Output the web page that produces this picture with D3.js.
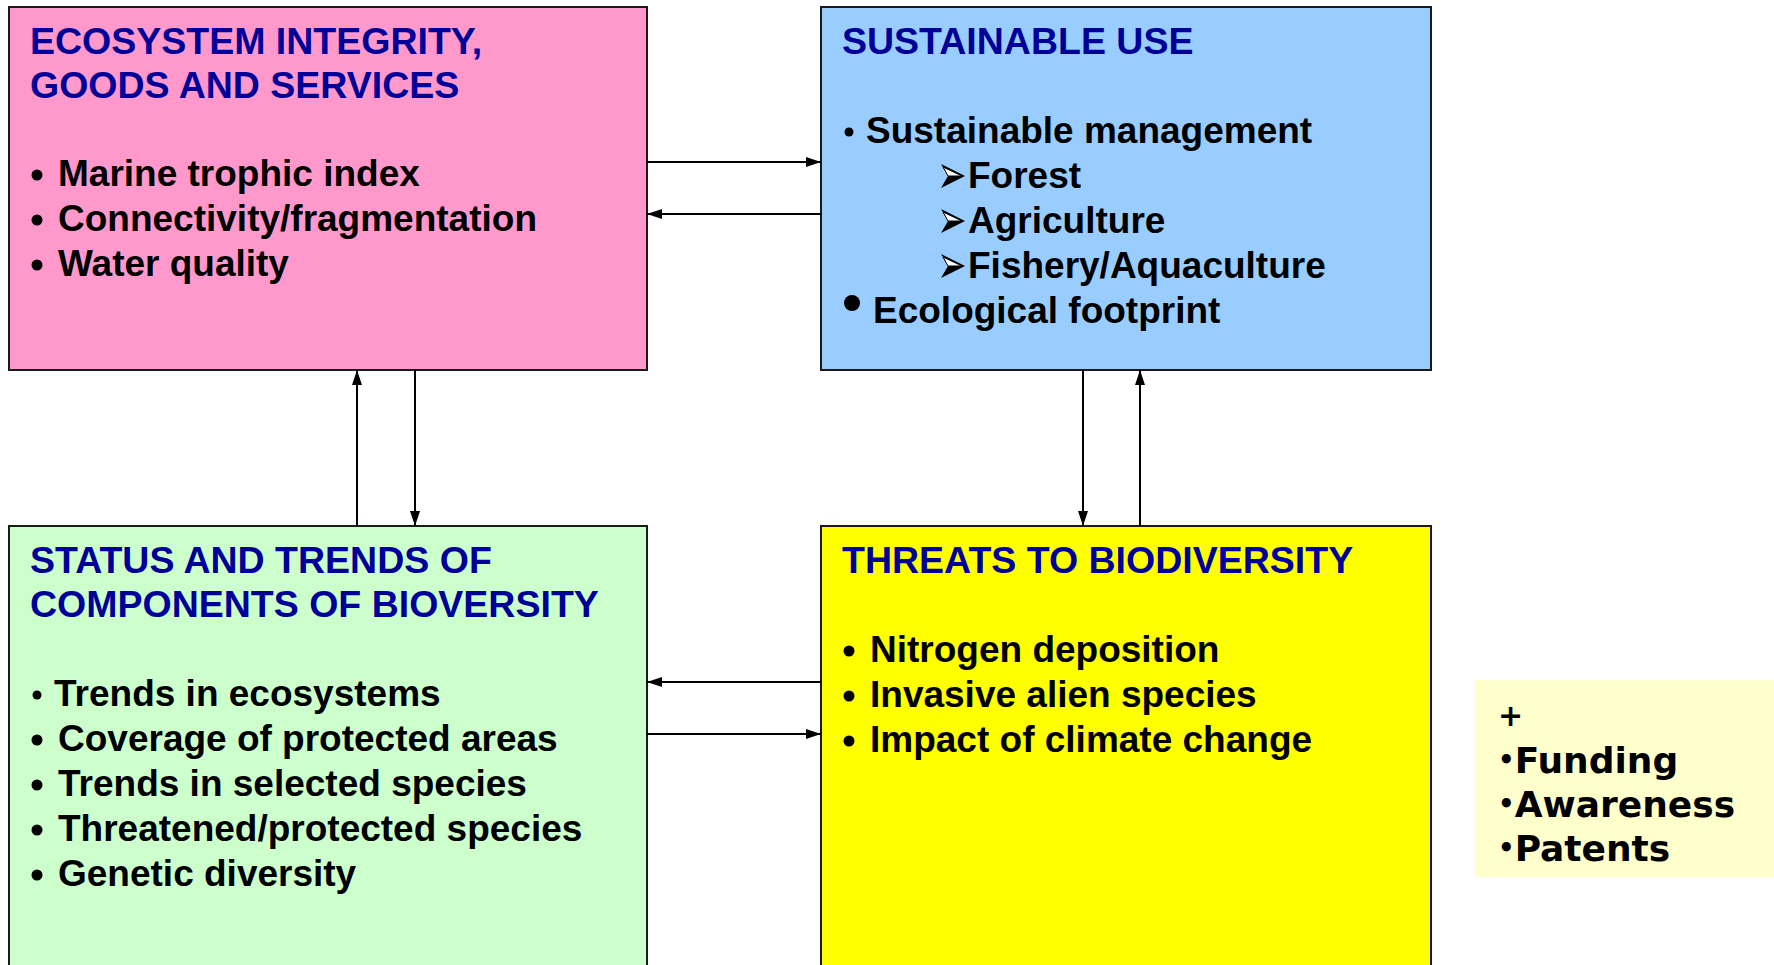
<!DOCTYPE html>
<html><head><meta charset="utf-8">
<script src="https://cdn.jsdelivr.net/npm/d3@7"></script>
<style>
html,body{margin:0;padding:0;background:#fff;overflow:hidden}
svg{display:block}
</style></head>
<body>
<svg id="c" width="1774" height="965"></svg>
<script>
// ---- content ----
const boxIds = ["integrity", "use", "status", "threats"];
const boxTitles = [
  ["ECOSYSTEM INTEGRITY,", "GOODS AND SERVICES"],
  ["SUSTAINABLE USE"],
  ["STATUS AND TRENDS OF", "COMPONENTS OF BIOVERSITY"],
  ["THREATS TO BIODIVERSITY"]
];
const boxColors = ["#FF99CC", "#99CCFF", "#CCFFCC", "#FFFF00"];
const integrityItems = ["Marine trophic index", "Connectivity/fragmentation", "Water quality"];
const useItems = ["Sustainable management", "Forest", "Agriculture", "Fishery/Aquaculture", "Ecological footprint"];
const useLevels = [0, 1, 1, 1, 0];
const statusItems = ["Trends in ecosystems", "Coverage of protected areas", "Trends in selected species", "Threatened/protected species", "Genetic diversity"];
const threatItems = ["Nitrogen deposition", "Invasive alien species", "Impact of climate change"];
const noteItems = ["+", "Funding", "Awareness", "Patents"];
const links = [
  ["integrity", "use"], ["use", "integrity"],
  ["status", "integrity"], ["integrity", "status"],
  ["use", "threats"], ["threats", "use"],
  ["threats", "status"], ["status", "threats"]
];

// ---- layout ----
const svg = d3.select("#c");
const col = d3.scaleOrdinal().domain([0, 1]).range([9, 821]);
const row = d3.scaleOrdinal().domain([0, 1]).range([7, 526]);
const boxW = [638, 610], boxH = [363, 460];
const boxes = boxIds.map((id, i) => {
  const c = i % 2, r = Math.floor(i / 2);
  return {id, i, x: col(c), y: row(r), w: boxW[c], h: boxH[r], fill: boxColors[i], title: boxTitles[i]};
});
const byId = Object.fromEntries(boxes.map(b => [b.id, b]));

const FONT = "'Liberation Sans', Arial, sans-serif";
const FS = 37, LH = 45;

svg.append("defs").append("marker")
  .attr("id", "ah").attr("viewBox", "0 0 15 10")
  .attr("refX", 15).attr("refY", 5)
  .attr("markerWidth", 15).attr("markerHeight", 10)
  .attr("markerUnits", "userSpaceOnUse")
  .attr("orient", "auto")
  .append("path").attr("d", "M0,0 L15,5 L0,10 Z").attr("fill", "#000");

// boxes
svg.append("g").selectAll("rect.box").data(boxes).join("rect")
  .attr("class", "box")
  .attr("x", d => d.x).attr("y", d => d.y)
  .attr("width", d => d.w).attr("height", d => d.h)
  .attr("fill", d => d.fill).attr("stroke", "#1a1a1a").attr("stroke-width", 2);

// note box
svg.append("rect").attr("x", 1475).attr("y", 680).attr("width", 310).attr("height", 197)
  .attr("fill", "#FFFFCC");

// titles
boxes.forEach(b => {
  const t = svg.append("text")
    .attr("font-family", FONT).attr("font-weight", "bold").attr("font-size", 37.5)
    .attr("fill", "#000099");
  b.title.forEach((line, k) => {
    t.append("tspan").attr("x", b.x + 21).attr("y", b.y + 47 + k * 44).text(line);
  });
});

// item lists
function bulletList(box, items, levels, top, opts = {}) {
  const sel = svg.append("g");
  items.forEach((txt, k) => {
    const lvl = levels ? levels[k] : 0;
    const y = box.y + top + k * LH;
    const x0 = box.x + 28 + (lvl ? 92 : 0);
    if (lvl === 0) {
      const big = opts.bigLast && k === items.length - 1;
      const small = opts.smallFirst && k === 0;
      sel.append("circle").attr("cx", x0 + (big ? 3 : 0)).attr("cy", y - (big ? 20 : 11))
        .attr("r", big ? 8 : (small ? 4.5 : 5.5)).attr("fill", "#000");
      sel.append("text").attr("x", x0 + (big ? 24 : (small ? 17 : 21))).attr("y", y)
        .attr("font-family", FONT).attr("font-weight", "bold").attr("font-size", FS)
        .attr("fill", "#000").text(txt);
    } else {
      sel.append("path")
        .attr("d", `M${x0},${y - 24} L${x0 + 24},${y - 12} L${x0},${y} L${x0 + 7},${y - 12} Z`)
        .attr("fill", "#000");
      sel.append("path")
        .attr("d", `M${x0 + 2},${y - 21} L${x0 + 21},${y - 12} L${x0 + 7},${y - 12} Z`)
        .attr("fill", "#fff").attr("stroke", "#000").attr("stroke-width", 1);
      sel.append("text").attr("x", x0 + 27).attr("y", y)
        .attr("font-family", FONT).attr("font-weight", "bold").attr("font-size", FS)
        .attr("fill", "#000").text(txt);
    }
  });
}
bulletList(byId.integrity, integrityItems, null, 179);
bulletList(byId.use, useItems, useLevels, 136, {bigLast: true, smallFirst: true});
bulletList(byId.status, statusItems, null, 180, {smallFirst: true});
bulletList(byId.threats, threatItems, null, 136);

// note texts
const nt = svg.append("g");
noteItems.forEach((t, k) => {
  const y = 729 + k * 44 - (k === 0 ? 3 : 0);
  const tx = nt.append("text").attr("x", 1498).attr("y", y)
    .attr("font-family", "'DejaVu Sans', Verdana, sans-serif").attr("font-weight", "bold")
    .attr("font-size", k === 0 ? 30 : 36).attr("fill", "#000");
  if (k === 0) tx.text(t);
  else {
    tx.append("tspan").attr("font-size", 26).attr("dy", -4).text("\u2022");
    tx.append("tspan").attr("dy", 4).text(t);
  }
});

// links (arrows)
function anchor(a, b) {
  const A = byId[a], B = byId[b];
  if (A.y === B.y) {
    const lr = A.x < B.x;
    const ys = A.y === 7 ? [162, 214] : [734, 682];
    const y = lr ? ys[0] : ys[1];
    return {x1: lr ? A.x + A.w : A.x, y1: y, x2: lr ? B.x : B.x + B.w, y2: y};
  } else {
    const down = A.y < B.y;
    const xs = A.x === 9 ? [415, 357] : [1083, 1140];
    const x = down ? xs[0] : xs[1];
    return {x1: x, y1: down ? A.y + A.h : A.y, x2: x, y2: down ? B.y : B.y + B.h};
  }
}
svg.append("g").selectAll("line").data(links.map(([a, b]) => anchor(a, b))).join("line")
  .attr("x1", d => d.x1).attr("y1", d => d.y1).attr("x2", d => d.x2).attr("y2", d => d.y2)
  .attr("stroke", "#000").attr("stroke-width", 2).attr("marker-end", "url(#ah)");
</script>
</body></html>
